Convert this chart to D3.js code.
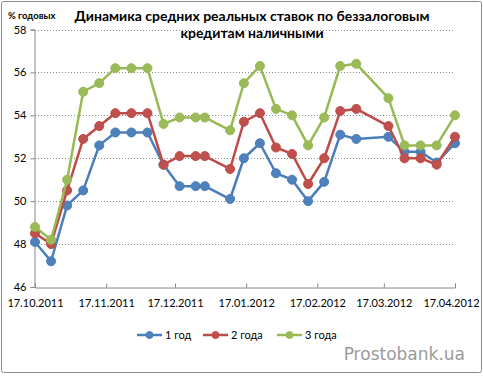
<!DOCTYPE html>
<html><head><meta charset="utf-8">
<script src="https://cdn.jsdelivr.net/npm/d3@7"></script>
<style>
html,body{margin:0;padding:0;background:#fff;}
svg{display:block;}
</style></head>
<body>
<svg id="c" width="483" height="376"></svg>
<script>
const dates = ["2011-10-17","2011-10-24","2011-10-31","2011-11-07","2011-11-14","2011-11-21","2011-11-28","2011-12-05","2011-12-12","2011-12-19","2011-12-26","2011-12-30","2012-01-10","2012-01-16","2012-01-23","2012-01-30","2012-02-06","2012-02-13","2012-02-20","2012-02-27","2012-03-05","2012-03-19","2012-03-26","2012-04-02","2012-04-09","2012-04-17"];
const series1 = [48.1,47.2,49.8,50.5,52.6,53.2,53.2,53.2,51.7,50.7,50.7,50.7,50.1,52.0,52.7,51.3,51.0,50.0,50.9,53.1,52.9,53.0,52.3,52.3,51.8,52.7];
const series2 = [48.5,48.0,50.5,52.9,53.5,54.1,54.1,54.1,51.7,52.1,52.1,52.1,51.5,53.7,54.1,52.5,52.2,50.8,52.0,54.2,54.3,53.5,52.0,52.0,51.7,53.0];
const series3 = [48.8,48.2,51.0,55.1,55.5,56.2,56.2,56.2,53.6,53.9,53.9,53.9,53.3,55.5,56.3,54.3,54.0,52.6,53.9,56.3,56.4,54.8,52.6,52.6,52.6,54.0];
const seriesNames = ["1 год","2 года","3 года"];
const yTicks = [46,48,50,52,54,56,58];
const xTickDates = ["2011-10-17","2011-11-17","2011-12-17","2012-01-17","2012-02-17","2012-03-17","2012-04-17"];
const title1 = "Динамика средних реальных ставок по беззалоговым";
const title2 = "кредитам наличными";
const yUnit = "% годовых";
const watermark = "Prostobank.ua";

const colors = ["#4A7EBB","#BE4B48","#98B954"];
const fills = ["#4F81BD","#C0504D","#9BBB59"];
const parse = d3.utcParse("%Y-%m-%d");
const fmt = d3.utcFormat("%d.%m.%Y");

const svg = d3.select("#c");
const font = "Lato, 'Open Sans', sans-serif";

svg.append("rect").attr("x",1.5).attr("y",1.5).attr("width",480).attr("height",371)
  .attr("fill","#fff").attr("stroke","#8c8c8c").attr("stroke-width",1).attr("rx",2);

const x = d3.scaleUtc().domain([parse("2011-10-17"), parse("2012-04-17")]).range([35,455]);
const y = d3.scaleLinear().domain([46,58]).range([287,29.5]);

// gridlines
svg.append("g").selectAll("line").data(yTicks.filter(v=>v>46)).join("line")
  .attr("x1",35).attr("x2",455)
  .attr("y1",d=>Math.round(y(d))+0.5).attr("y2",d=>Math.round(y(d))+0.5)
  .attr("stroke","#8a8a8a").attr("stroke-width",1).attr("stroke-dasharray","1,2");

// y axis
const ya = svg.append("g").attr("transform","translate(34.5,0)")
  .call(d3.axisLeft(y).tickValues(yTicks).tickSize(4).tickPadding(4).tickFormat(d3.format("d")));
ya.select(".domain").attr("stroke","#868686");
ya.selectAll(".tick line").attr("stroke","#868686");
ya.selectAll("text").attr("font-family",font).attr("font-size",11).attr("fill","#000");

// x axis
const xa = svg.append("g").attr("transform","translate(0,287.5)")
  .call(d3.axisBottom(x).tickValues(xTickDates.map(parse)).tickSize(-4).tickPadding(10).tickFormat(fmt));
xa.select(".domain").attr("stroke","#868686");
xa.selectAll(".tick line").attr("stroke","#868686");
xa.selectAll("text").attr("font-family",font).attr("font-size",11).attr("fill","#000").attr("dy","0.9em");
xa.selectAll(".tick").filter((d,i)=>i===xTickDates.length-1).select("text").attr("dx",-4);

// series
const all = [series1,series2,series3];
const line = d3.line().x((d,i)=>x(parse(dates[i]))).y(d=>y(d));
all.forEach((s,k)=>{
  const g = svg.append("g");
  g.append("path").datum(s).attr("d",line).attr("fill","none")
    .attr("stroke",colors[k]).attr("stroke-width",2.5).attr("stroke-linejoin","round");
  g.selectAll("circle").data(s).join("circle")
    .attr("cx",(d,i)=>x(parse(dates[i]))).attr("cy",d=>y(d)).attr("r",4.5)
    .attr("fill",fills[k]).attr("stroke",colors[k]).attr("stroke-width",1);
});

// titles
svg.append("text").attr("x",252).attr("y",21).attr("text-anchor","middle")
  .attr("font-family",font).attr("font-weight","bold").attr("font-size",14).text(title1);
svg.append("text").attr("x",252).attr("y",38).attr("text-anchor","middle")
  .attr("font-family",font).attr("font-weight","bold").attr("font-size",14).text(title2);
svg.append("text").attr("x",8).attr("y",19)
  .attr("font-family",font).attr("font-weight","bold").attr("font-size",9.5).text(yUnit);

// legend
const lx = [137,203,277];
const lg = svg.append("g");
seriesNames.forEach((n,k)=>{
  const g = lg.append("g").attr("transform",`translate(${lx[k]},335)`);
  g.append("line").attr("x1",0).attr("x2",25).attr("y1",0).attr("y2",0)
    .attr("stroke",colors[k]).attr("stroke-width",2.5);
  g.append("circle").attr("cx",12.5).attr("cy",0).attr("r",3.5)
    .attr("fill",fills[k]).attr("stroke",colors[k]);
  g.append("text").attr("x",28).attr("y",4).attr("font-family",font).attr("font-size",11).text(n);
});

svg.append("text").attr("x",465).attr("y",360).attr("text-anchor","end")
  .attr("font-family","'DejaVu Sans', sans-serif").attr("font-size",17).attr("fill","#9a9a9a").text(watermark);
</script>
</body></html>
